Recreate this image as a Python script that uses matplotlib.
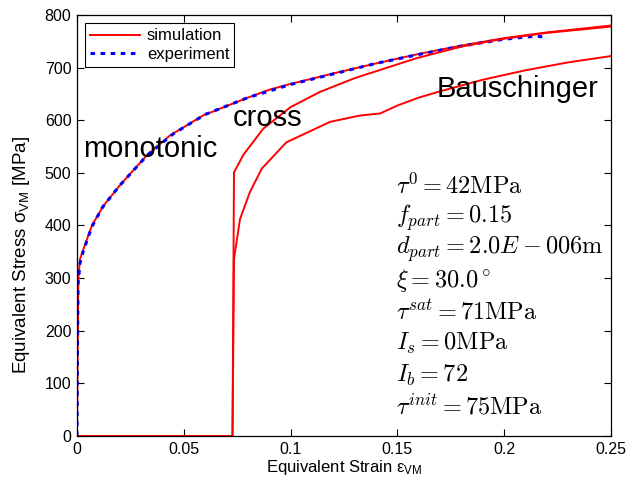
import matplotlib
matplotlib.use("Agg")
import matplotlib.pyplot as plt

plt.rcParams["font.family"] = ["Liberation Sans", "DejaVu Sans"]
plt.rcParams["mathtext.fontset"] = "custom"
plt.rcParams["mathtext.rm"] = "Liberation Sans"
plt.rcParams["mathtext.it"] = "Liberation Sans:italic"

# monotonic simulation
mono_strain = [0.0, 0.0003, 0.0006, 0.0014, 0.003, 0.007, 0.0123, 0.02, 0.0326, 0.0435,
               0.059, 0.07, 0.08, 0.09, 0.1, 0.12, 0.14, 0.16, 0.18, 0.2, 0.22, 0.25]
mono_stress = [0, 150, 298, 336, 355, 400, 437, 476, 533, 571,
               609, 627, 643, 658, 669, 689, 708, 726, 742, 756, 767, 780]

# experiment
exp_strain = [0.0, 0.0002, 0.0005, 0.0015, 0.003, 0.007, 0.012, 0.02, 0.033, 0.045,
              0.06, 0.07, 0.08, 0.1, 0.12, 0.14, 0.16, 0.18, 0.2, 0.215, 0.22]
exp_stress = [0, 150, 290, 330, 352, 398, 435, 476, 534, 574,
              611, 627, 643, 668, 688, 708, 725, 741, 754, 760, 757]

# cross reloading
cross_strain = [0.0, 0.0725, 0.0728, 0.0735, 0.078, 0.0872, 0.1, 0.1138, 0.13, 0.159,
                0.18, 0.2, 0.22, 0.25]
cross_stress = [0, 0, 0, 501, 535, 584, 625, 654, 680, 718,
                740, 755, 766, 778]

# Bauschinger reloading
baus_strain = [0.0, 0.0725, 0.0728, 0.0735, 0.0763, 0.081, 0.0865, 0.098, 0.1185, 0.1325,
               0.142, 0.15, 0.16, 0.17, 0.19, 0.21, 0.23, 0.25]
baus_stress = [0, 0, 0, 336, 412, 464, 508, 558, 597, 609,
               613, 628, 643, 655, 677, 695, 710, 722]

params = [
    r"$\tau^0 = 42\mathrm{MPa}$",
    r"$f_{part} = 0.15$",
    r"$d_{part} = 2.0E-006\mathrm{m}$",
    r"$\xi = 30.0^\circ$",
    r"$\tau^{sat} = 71\mathrm{MPa}$",
    r"$I_s = 0\mathrm{MPa}$",
    r"$I_b = 72$",
    r"$\tau^{init} = 75\mathrm{MPa}$",
]

fig = plt.figure(figsize=(6.27, 4.84), dpi=100)
ax = fig.add_axes([0.1228, 0.0992, 0.8517, 0.8698])

ax.plot(mono_strain, mono_stress, color="red", lw=1.4, label="simulation")
ax.plot(exp_strain, exp_stress, color="blue", lw=2.2, linestyle=(0, (1.5, 1.8)),
        label="experiment")
ax.plot(cross_strain, cross_stress, color="red", lw=1.4)
ax.plot(baus_strain, baus_stress, color="red", lw=1.4)

ax.set_xlim(0, 0.25)
ax.set_ylim(0, 800)
ax.set_xticks([0, 0.05, 0.1, 0.15, 0.2, 0.25])
ax.set_xticklabels(["0", "0.05", "0.1", "0.15", "0.2", "0.25"])
ax.set_yticks(range(0, 801, 100))
ax.tick_params(direction="in", top=True, right=True, labelsize=11.5, length=5, pad=4)
for s in ax.spines.values():
    s.set_linewidth(0.9)

ax.set_xlabel(r"Equivalent Strain ε$_{\mathrm{VM}}$", fontsize=12, labelpad=1)
ax.set_ylabel(r"Equivalent Stress σ$_{\mathrm{VM}}$ [MPa]", fontsize=13.5, va="center")
ax.yaxis.set_label_coords(-0.103, 0.43)

ax.text(0.0030, 531, "monotonic", fontsize=21, va="baseline")
ax.text(0.0728, 590, "cross", fontsize=21, va="baseline")
ax.text(0.1685, 645, "Bauschinger", fontsize=21, va="baseline")

y = 475
for p in params:
    ax.text(0.1495, y, p, fontsize=17.5, math_fontfamily="cm", va="center")
    y -= 60

leg = ax.legend(loc="upper left", fontsize=12, fancybox=False, framealpha=1,
                edgecolor="black", borderaxespad=0.5, handlelength=3.0,
                handletextpad=0.4, borderpad=0.3, labelspacing=0.2)
leg.get_frame().set_linewidth(0.8)

fig.savefig("out.png", dpi=100)
